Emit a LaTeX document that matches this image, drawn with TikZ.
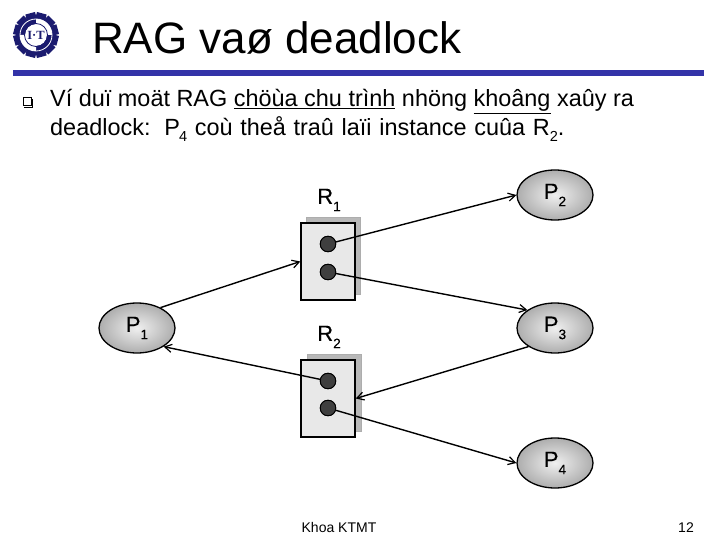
\documentclass[tikz,border=0pt]{standalone}
\usepackage{fontspec}
\setmainfont{Liberation Sans}
\newfontfamily\lblfont[FakeBold=0.35]{Liberation Sans}
\usetikzlibrary{shapes.geometric,arrows.meta,shadings}
\definecolor{navy}{HTML}{1B1B6F}
\definecolor{rulecol}{HTML}{3333A8}
\definecolor{dotcol}{HTML}{3F3F3F}
\newcommand{\sbs}[1]{\raisebox{-0.33em}{\fontsize{0.62em}{0.62em}\selectfont #1}}
\newcommand{\bsb}[1]{\raisebox{-0.24em}{\fontsize{0.62em}{0.62em}\selectfont #1}}
\tikzset{
  x=1pt,y=-1pt,
  proc/.style={ellipse,draw=black,line width=1.3pt,minimum width=76pt,minimum height=50pt,inner sep=0pt,
    inner color=white!94!black,outer color=black!32,font=\lblfont\fontsize{22}{24}\selectfont},
  resbox/.style={rectangle,draw=black,line width=1.4pt,fill=black!9,minimum width=54pt,minimum height=77pt,inner sep=0pt},
  resshadow/.style={rectangle,draw=black!32,line width=1pt,fill=black!28,minimum width=54pt,minimum height=77pt,inner sep=0pt},
  inst/.style={circle,draw=black,line width=.9pt,fill=dotcol,minimum size=15.5pt,inner sep=0pt},
  edge/.style={draw=black,line width=1.4pt,-{Straight Barb[length=7pt,width=8pt,line width=1.2pt]}},
  lbl/.style={inner sep=0pt,font=\lblfont\fontsize{22}{24}\selectfont},
  bodytext/.style={inner sep=0pt,anchor=base west,font=\fontsize{23.44}{28}\selectfont}
}
\begin{document}
\begin{tikzpicture}
\useasboundingbox (0,0) rectangle (720,540);
\fill[white] (0,0) rectangle (720,540);
% logo
\foreach \a in {15,45,...,345}{
  \fill[navy,rotate around={\a:(36,35)}] (31,12.5) rectangle (41,22);
}
\fill[navy] (36,35) circle[radius=19];
\fill[white] (36,35) -- (36,19) arc[start angle=-90,end angle=0,radius=16] -- cycle;
\fill[white] (36,35) -- (36,51) arc[start angle=90,end angle=180,radius=16] -- cycle;
\draw[white,line width=.8pt] (36,35) circle[radius=16];
\fill[white] (36,35) circle[radius=11];
\draw[navy,line width=.8pt] (36,35) circle[radius=11.5];
\node[inner sep=0pt,text=navy] (logotext) at (36,35) {\fontspec{Liberation Serif}\bfseries\fontsize{12.5}{12}\selectfont I·T};
% title
\node[inner sep=0pt,anchor=base west,font=\fontsize{44}{50}\selectfont] (title) at (92,54) {RAG vaø deadlock};
\fill[rulecol] (13,70) rectangle (704,76);
% bullet
\node[rectangle,draw=black,line width=1.1pt,minimum size=8pt,inner sep=0pt] (bullet) at (27.5,101.5) {};
\draw[black,line width=.9pt] (bullet.south west)++(1.5,1) -- ++(8,0) -- ++(0,-8);
% body
\node[bodytext] (l1) at (50,107) {Ví duï moät RAG \underline{chöùa chu trình} nhöng \underline{khoâng} xaûy ra};
\node[bodytext] (l2) at (50,136) {\spaceskip=7.7pt deadlock:\hspace{4pt} P\hspace{-1pt}\bsb{4} coù theå traû laïi instance cuûa R\bsb{2}.};
% resources
\node[resshadow] (s1) at (333.5,256) {};
\node[resbox] (R1) at (328,261.5) {};
\node[resshadow] (s2) at (334,392.5) {};
\node[resbox] (R2) at (328,398.5) {};
\node[inst] (a1) at (328,244) {};
\node[inst] (a2) at (328,272) {};
\node[inst] (b1) at (328,381) {};
\node[inst] (b2) at (328,408) {};
\node[lbl] (r1l) at (329,200) {R\sbs{1}};
\node[lbl] (r2l) at (329,337) {R\sbs{2}};
% processes
\node[proc] (P1) at (137,328) {P\sbs{1}};
\node[proc] (P2) at (555,195) {P\sbs{2}};
\node[proc] (P3) at (555,328) {P\sbs{3}};
\node[proc] (P4) at (555,463) {P\sbs{4}};
% edges
\draw[edge] (P1.41) -- (R1.west);
\draw[edge] (a1.center) -- (P2.west);
\draw[edge] (a2.center) -- (P3.147);
\draw[edge] (b1.center) -- (P1.-35);
\draw[edge] (P3.215) -- (R2.east);
\draw[edge] (b2.center) -- (P4.west);
\node[inst] at (a1) {};
\node[inst] at (a2) {};
\node[inst] at (b1) {};
\node[inst] at (b2) {};
% footer
\node[inner sep=0pt,anchor=base,font=\fontsize{14}{16}\selectfont] (foot) at (339,532) {Khoa KTMT};
\node[inner sep=0pt,anchor=base,font=\fontsize{14}{16}\selectfont] (num) at (686,532) {12};
\end{tikzpicture}
\end{document}
